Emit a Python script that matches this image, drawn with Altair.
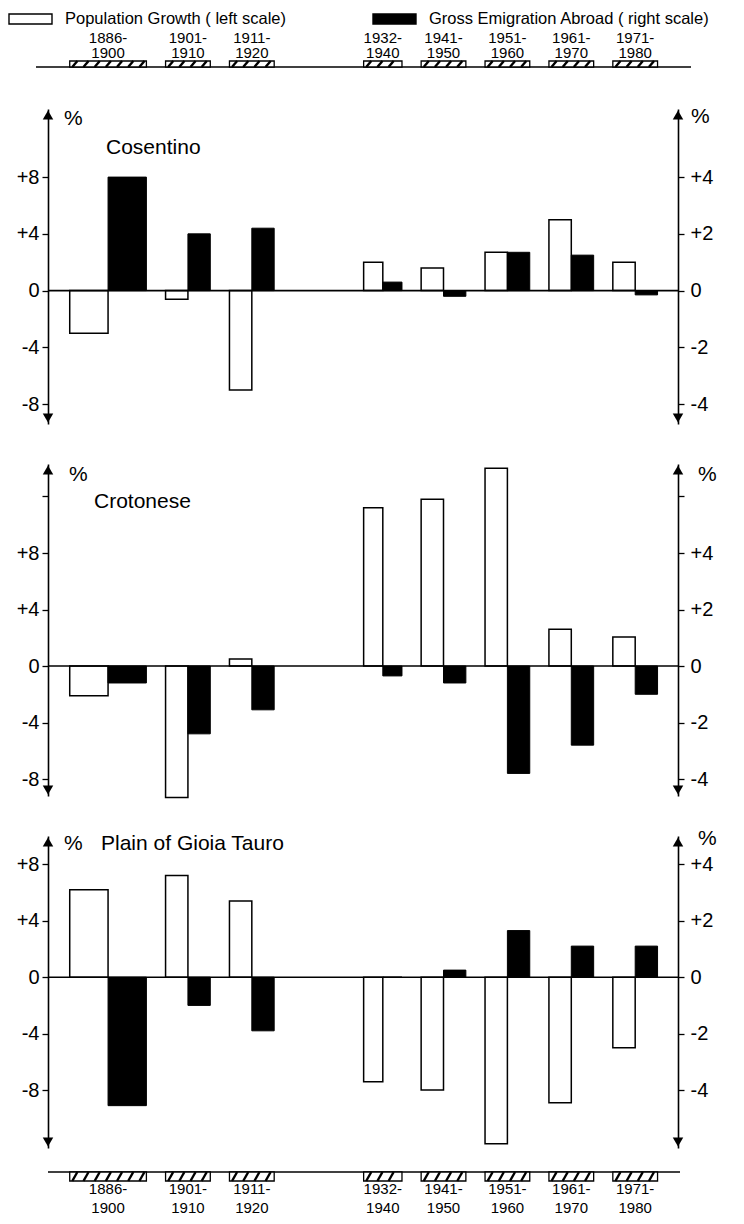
import altair as alt
import numpy as np
import pandas as pd

FONT = "Liberation Sans"

# ---- data ----
period_start = [1886, 1901, 1911, 1932, 1941, 1951, 1961, 1971]
period_end = [1900, 1910, 1920, 1940, 1950, 1960, 1970, 1980]

regions = ["Cosentino", "Crotonese", "Plain of Gioia Tauro"]

# population growth, % (left scale)
pop_cosentino = [-3.0, -0.6, -7.0, 2.0, 1.6, 2.7, 5.0, 2.0]
pop_crotonese = [-2.1, -9.3, 0.5, 11.2, 11.8, 14.0, 2.6, 2.05]
pop_gioia = [6.2, 7.2, 5.4, -7.4, -8.0, -11.8, -8.9, -5.0]

# gross emigration abroad, % (right scale)
emig_cosentino = [4.0, 2.0, 2.2, 0.3, -0.2, 1.35, 1.25, -0.15]
emig_crotonese = [-0.6, -2.4, -1.55, -0.35, -0.6, -3.8, -2.8, -1.0]
emig_gioia = [-4.55, -1.0, -1.9, 0.0, 0.25, 1.65, 1.1, 1.1]

series_names = ["Population Growth ( left scale)", "Gross Emigration Abroad ( right scale)"]
series_fill = ["white", "black"]

W = 630
xscale = alt.Scale(domain=[1884.1, 1982.7], nice=False, zero=False)


def periods():
    df = pd.DataFrame({"start": period_start, "end": period_end})
    df["lo"] = df["start"] + 1.5
    df["hi"] = df["end"] - 0.5
    df["mid"] = (df["lo"] + df["hi"]) / 2
    df["line1"] = df["start"].astype(str) + "-"
    df["line2"] = df["end"].astype(str)
    return df


def hatch_frame():
    rows = []
    for lo, hi in zip(periods()["lo"], periods()["hi"]):
        for h in np.arange(lo + 0.4, hi - 0.7, 1.75):
            rows.append({"h0": h, "h1": h + 0.8})
    return pd.DataFrame(rows)


one = pd.DataFrame({"k": [0]})


def label_expr(maxlab):
    return ("datum.value > %d ? '' : datum.value > 0 ? '+' + datum.value : "
            "datum.value < 0 ? '-' + abs(datum.value) : '0'" % maxlab)


def axis(orient, vals, maxlab, pad):
    return alt.Axis(
        orient=orient, values=vals, labelExpr=label_expr(maxlab), tickSize=6,
        tickWidth=1.3, tickColor="black", domainColor="black", domainWidth=1.6,
        labelFontSize=20, labelFont=FONT, labelColor="black", labelPadding=pad,
        grid=False, title=None, labelFlush=False, labelOverlap=False,
    )


def text_layer(txt, x, y, size=21, align="left"):
    return alt.Chart(one).mark_text(
        align=align, baseline="middle", fontSize=size, font=FONT, color="black"
    ).encode(x=alt.value(x), y=alt.value(y), text=alt.value(txt))


def legend_layers():
    out = []
    for name, fill, x0 in zip(series_names, series_fill, (-39, 325)):
        out.append(alt.Chart(one).mark_rect(fill=fill, stroke="black", strokeWidth=1.4).encode(
            x=alt.value(x0), x2=alt.value(x0 + 43), y=alt.value(-95), y2=alt.value(-85)))
        out.append(text_layer(name, x0 + 56, -90, size=16.5))
    return out


def strip_layers(y_line, y_box0, y_box1, y_lab1, y_lab2, x_line0, x_line1):
    df = periods()
    line = alt.Chart(one).mark_rule(color="black", strokeWidth=1.5).encode(
        x=alt.value(x_line0), x2=alt.value(x_line1), y=alt.value(y_line))
    boxes = alt.Chart(df).mark_rect(fill="white", stroke="black", strokeWidth=1.3).encode(
        x=alt.X("lo:Q", scale=xscale, axis=None), x2="hi",
        y=alt.value(y_box0), y2=alt.value(y_box1))
    hatch = alt.Chart(hatch_frame()).mark_rule(color="black", strokeWidth=2.4).encode(
        x=alt.X("h0:Q", scale=xscale, axis=None), x2="h1",
        y=alt.value(max(y_box0, y_box1)), y2=alt.value(min(y_box0, y_box1)))
    lab1 = alt.Chart(df).mark_text(fontSize=15, font=FONT, color="black", baseline="middle").encode(
        x=alt.X("mid:Q", scale=xscale, axis=None), y=alt.value(y_lab1), text="line1")
    lab2 = alt.Chart(df).mark_text(fontSize=15, font=FONT, color="black", baseline="middle").encode(
        x=alt.X("mid:Q", scale=xscale, axis=None), y=alt.value(y_lab2), text="line2")
    return [line, boxes, hatch, lab1, lab2]


def panel(pop, emig, top, bot, height, lvals, rvals, texts, extras):
    df = periods()
    df["pop"] = pop
    df["emig"] = emig
    white = alt.Chart(df).mark_bar(fill=series_fill[0], stroke="black", strokeWidth=1.5).encode(
        x=alt.X("lo:Q", scale=xscale, axis=None), x2="mid",
        y=alt.Y("pop:Q", scale=alt.Scale(domain=[bot, top], nice=False, zero=False),
                axis=axis("left", lvals, 8, 3)),
        y2=alt.datum(0),
    )
    black = alt.Chart(df).mark_bar(fill=series_fill[1], stroke="black", strokeWidth=1).encode(
        x=alt.X("mid:Q", scale=xscale, axis=None), x2="hi",
        y=alt.Y("emig:Q", scale=alt.Scale(domain=[bot / 2, top / 2], nice=False, zero=False),
                axis=axis("right", rvals, 4, 6)),
        y2=alt.datum(0),
    )
    zpx = height * top / (top - bot)
    zero = alt.Chart(one).mark_rule(color="black", strokeWidth=1.6).encode(
        x=alt.value(0), x2=alt.value(W), y=alt.value(zpx))
    arrows = []
    for xv in (0, W):
        arrows.append(alt.Chart(one).mark_point(shape="triangle-up", filled=True, color="black",
                                                size=110, opacity=1).encode(
            x=alt.value(xv), y=alt.value(6)))
        arrows.append(alt.Chart(one).mark_point(shape="triangle-down", filled=True, color="black",
                                                size=110, opacity=1).encode(
            x=alt.value(xv), y=alt.value(height - 6)))
    layers = [white, black, zero] + arrows + texts + extras
    return alt.layer(*layers).resolve_scale(y="independent").properties(width=W, height=height)


p1 = panel(
    pop_cosentino, emig_cosentino, 12.8, -9.4, 315,
    [-8, -4, 0, 4, 8], [-4, -2, 0, 2, 4],
    [text_layer("%", 16, 10), text_layer(regions[0], 58, 39), text_layer("%", 643, 8)],
    strip_layers(-42, -48, -42, -71, -56, -12, 643) + legend_layers(),
)
p2 = panel(
    pop_crotonese, emig_crotonese, 14.3, -9.2, 332,
    [-8, -4, 0, 4, 8, 12], [-4, -2, 0, 2, 4, 6],
    [text_layer("%", 21, 11), text_layer(regions[1], 46, 38), text_layer("%", 650, 11)],
    [],
)
p3 = panel(
    pop_gioia, emig_gioia, 10.0, -12.1, 312,
    [-8, -4, 0, 4, 8], [-4, -2, 0, 2, 4],
    [text_layer("%", 16, 8), text_layer(regions[2], 53, 8), text_layer("%", 650, 3)],
    strip_layers(336, 336, 345, 353, 372, 0, 632),
)

chart = alt.vconcat(p1, p2, p3, spacing=40, bounds="flush").properties(
    padding={"left": 0, "top": 3, "right": 0, "bottom": 0}
).configure_view(stroke=None)

chart.save("out.html", embed_options={"renderer": "svg", "actions": False})
